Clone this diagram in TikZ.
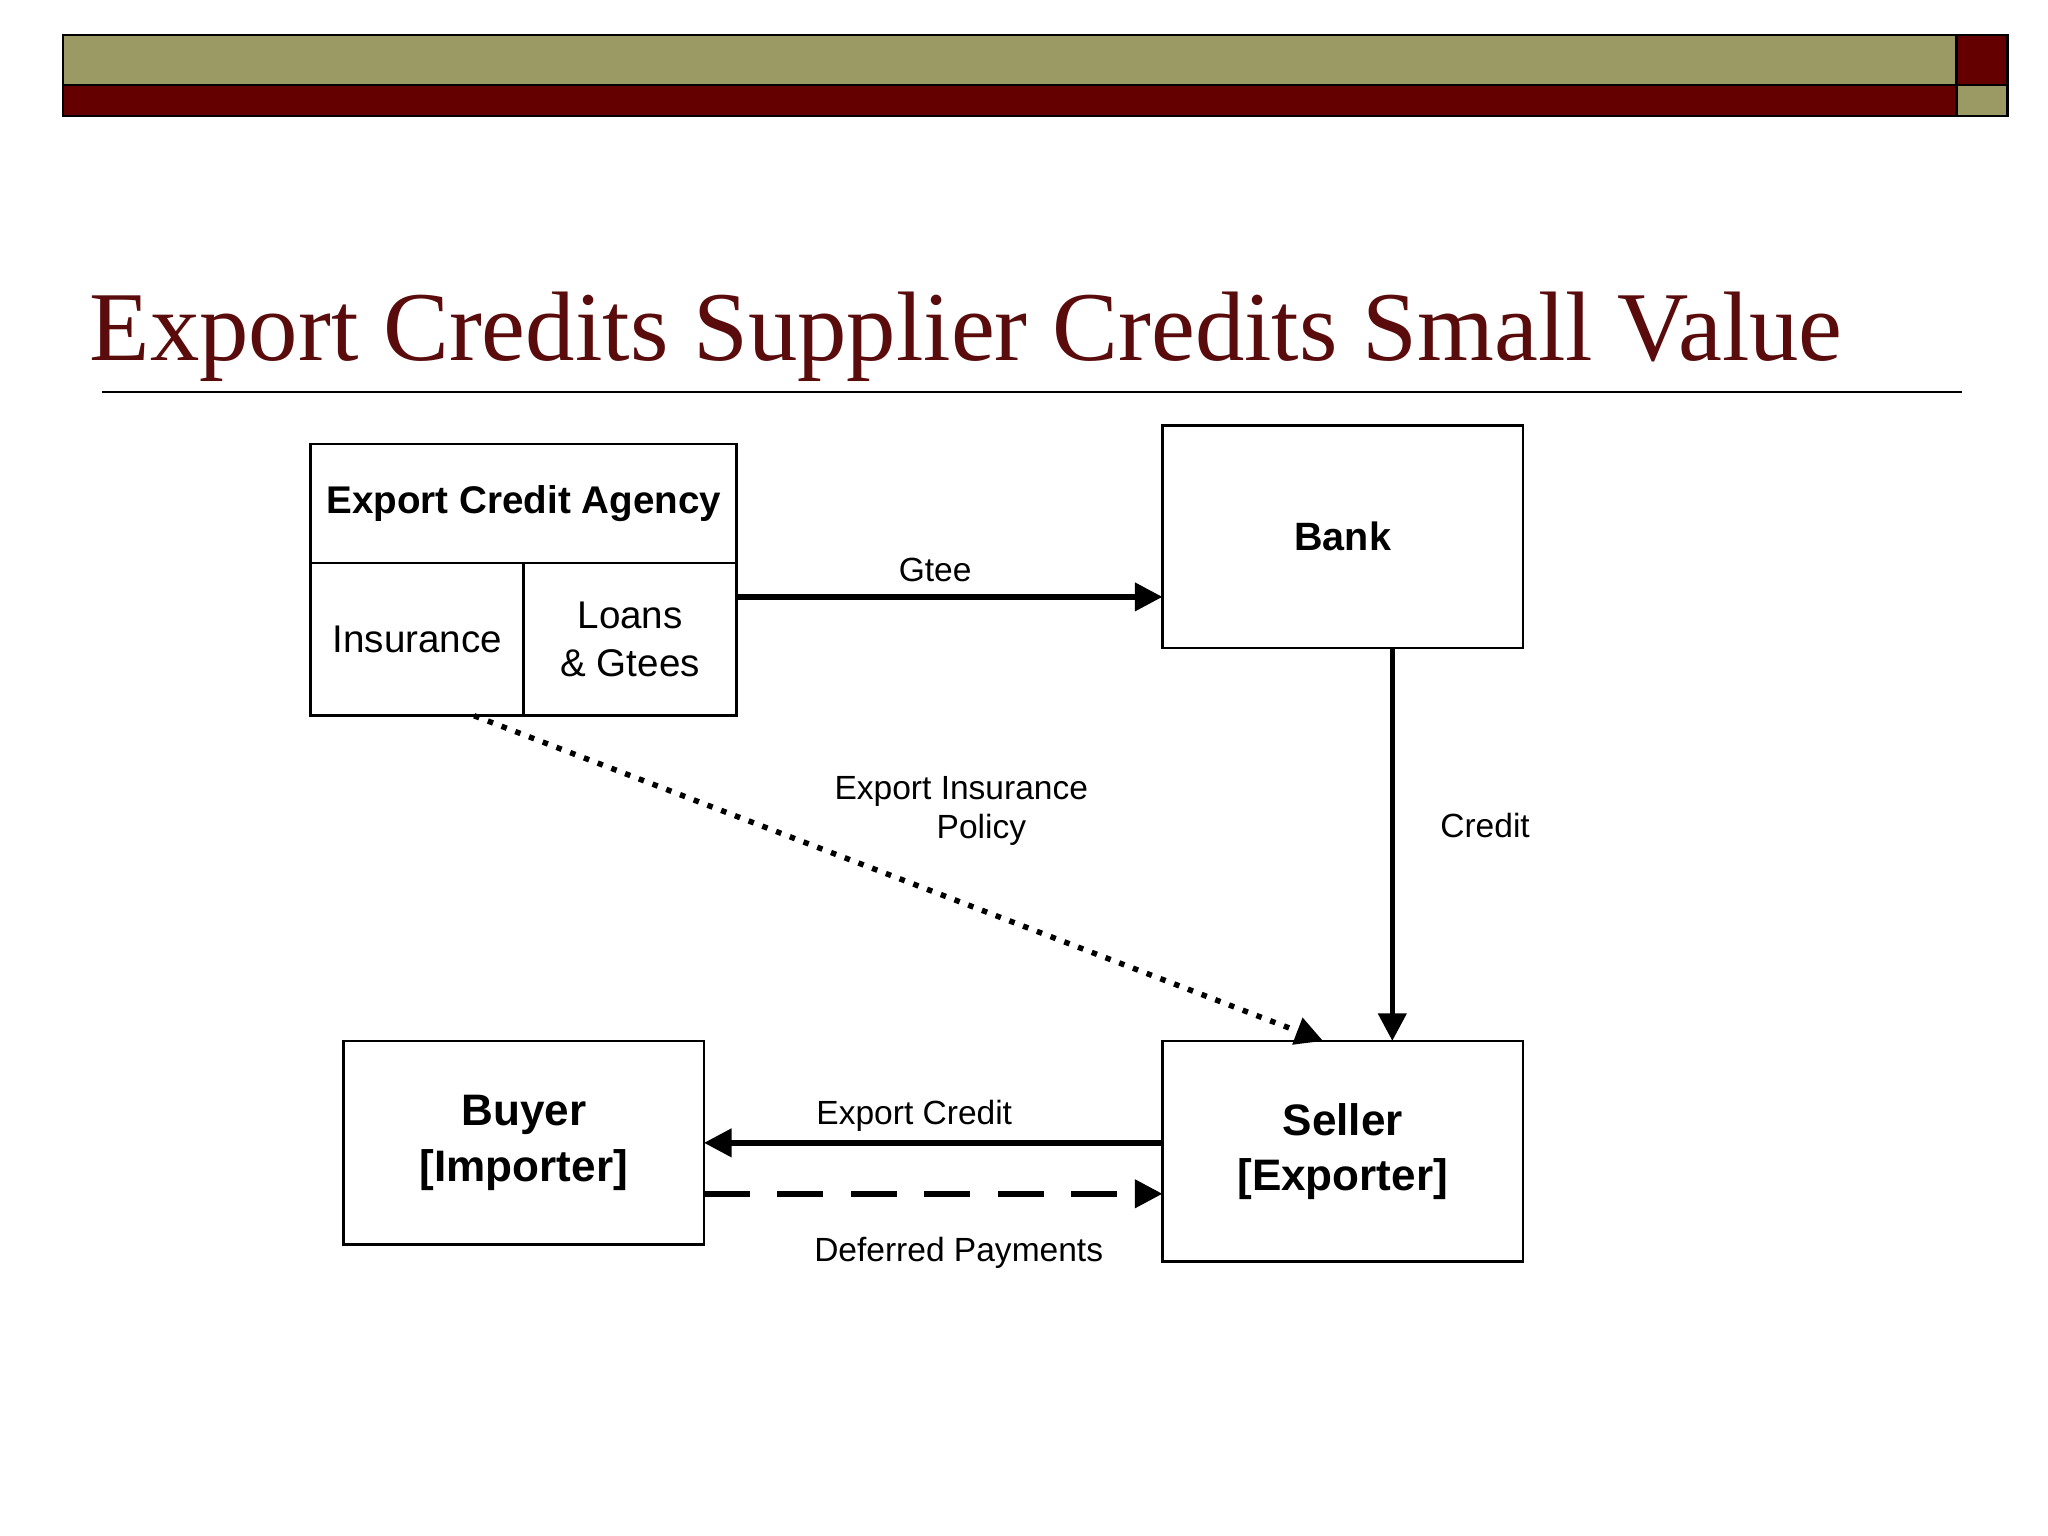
\documentclass[tikz,border=0pt]{standalone}
\usepackage{fontspec}
\setmainfont{Liberation Sans}
\newfontfamily\titlefont{Liberation Serif}
\usetikzlibrary{arrows.meta}
\definecolor{olive}{HTML}{9C9A64}
\definecolor{dred}{HTML}{650000}
\definecolor{tred}{HTML}{5A0C0C}
\begin{document}
\begin{tikzpicture}[x=0.01cm,y=-0.01cm,
  box/.style={draw,line width=0.6pt,inner sep=0pt,align=center},
  conn/.style={line width=1.2pt,-{Triangle[length=6pt,width=6pt]}},
  lbl/.style={font=\fontsize{7.3}{8.5}\selectfont,align=center}]
\useasboundingbox (0,0) rectangle (1568,1176);
% header
\fill[olive,draw=black,line width=0.5pt] (48,27) rectangle (1498,65);
\fill[dred,draw=black,line width=0.5pt] (48,65) rectangle (1498,89);
\fill[dred,draw=black,line width=0.5pt] (1498,27) rectangle (1537,65);
\fill[olive,draw=black,line width=0.5pt] (1498,65) rectangle (1537,89);
\node[anchor=base west,inner sep=0pt,text=tred,font=\titlefont\fontsize{21.5}{24}\selectfont] (title) at (68,276) {Export Credits Supplier Credits Small Value};
\draw[line width=0.5pt] (78,300) -- (1502,300);
% ECA
\node[box,minimum width=326\pgflinewidth] (ecat) at (401,385.5) [minimum width=3.26cm,minimum height=0.91cm,font=\bfseries\fontsize{8.4}{10}\selectfont] {Export Credit Agency};
\node[box,minimum width=1.63cm,minimum height=1.17cm,font=\fontsize{8.4}{10}\selectfont] (ins) at (319.5,489.5) {Insurance};
\node[box,minimum width=1.63cm,minimum height=1.17cm,font=\fontsize{8.4}{10.5}\selectfont] (loans) at (482.5,489.5) {Loans\\\& Gtees};
\node[box,minimum width=2.76cm,minimum height=1.70cm,font=\bfseries\fontsize{8.6}{10}\selectfont] (bank) at (1028,411) {Bank};
\node[box,minimum width=2.76cm,minimum height=1.69cm,font=\bfseries\fontsize{9.6}{12}\selectfont] (seller) at (1028,881.5) {Seller\\{[Exporter]}};
\node[box,minimum width=2.76cm,minimum height=1.56cm,font=\bfseries\fontsize{9.6}{12}\selectfont] (buyer) at (401,875) {Buyer\\{[Importer]}};
% connectors
\coordinate (g1) at (564,457); \coordinate (g2) at (890,457);
\draw[conn] (g1) -- (g2);
\node[lbl] (lg) at (716,436) {Gtee};
\coordinate (c1) at (1066,496); \coordinate (c2) at (1066,797);
\draw[conn] (c1) -- (c2);
\node[lbl] (lc) at (1137,632) {Credit};
\coordinate (d1) at (363,548); \coordinate (d2) at (1013,797);
\draw[conn,dotted] (d1) -- (d2);
\node[lbl] (ld) at (736,621) {Export Insurance\\\hspace*{1.2em}Policy};
\coordinate (e1) at (890,875); \coordinate (e2) at (539,875);
\draw[conn] (e1) -- (e2);
\node[lbl] (le) at (700,854) {Export Credit};
\coordinate (f1) at (539,914); \coordinate (f2) at (890,914);
\draw[conn,dash pattern=on 10pt off 6pt] (f1) -- (f2);
\node[lbl] (lf) at (734,959) {Deferred Payments};
\end{tikzpicture}
\end{document}
